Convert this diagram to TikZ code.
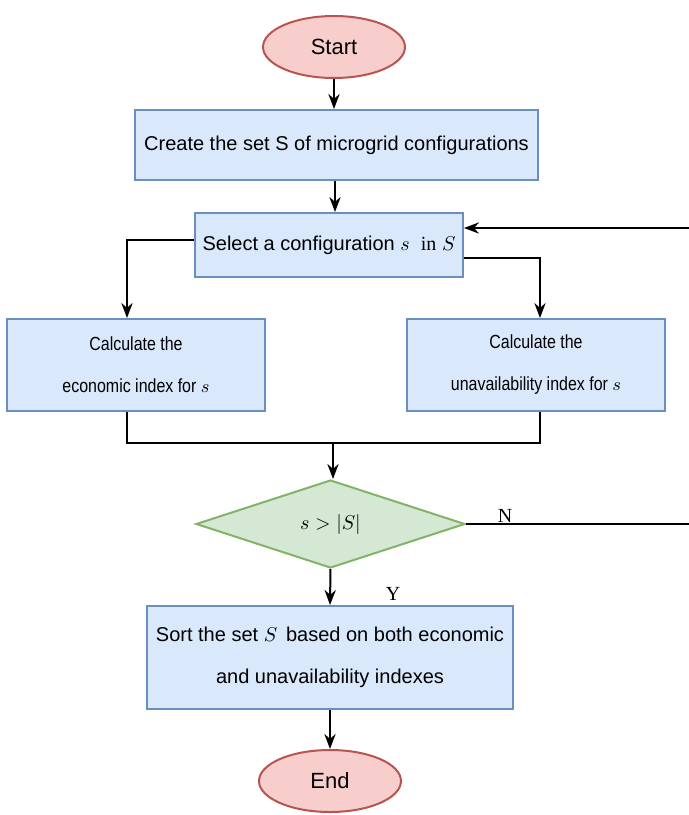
\documentclass[tikz,border=0pt]{standalone}
\usepackage{fontspec}
\setmainfont{Liberation Sans}
\newfontfamily\serif{Liberation Serif}
\newfontfamily\narrow[FakeStretch=0.84]{Liberation Sans}
\usetikzlibrary{arrows.meta,shapes.geometric}

\definecolor{boxfill}{HTML}{DAE8FC}
\definecolor{boxline}{HTML}{6C8EBF}
\definecolor{decfill}{HTML}{D5E8D4}
\definecolor{decline}{HTML}{82B366}
\definecolor{termfill}{HTML}{F8CECC}
\definecolor{termline}{HTML}{B85450}

\begin{document}
\begin{tikzpicture}[x=0.5pt, y=-0.5pt, >=Stealth, line width=1pt,
    font=\fontsize{10}{21}\selectfont,
    procbox/.style={draw=boxline, fill=boxfill, rectangle, align=center, inner sep=0pt},
    decbox/.style={draw=decline, fill=decfill, diamond, aspect=3, inner sep=0pt,
                   minimum width=134.5pt, minimum height=44pt},
    termbox/.style={draw=termline, fill=termfill, ellipse, inner sep=0pt,
                    minimum width=71pt, minimum height=31pt, font=\fontsize{11}{13}\selectfont},
    flow/.style={->, black}]
  % canvas = 689 x 815 px of the reference, 1px = 0.5pt
  \useasboundingbox (0,0) rectangle (689,815);

  % --- terminals ---
  \node[termbox] (start) at (334, 47)  {Start};
  \node[termbox] (stop)  at (330, 781) {End};

  % --- process boxes ---
  \node[procbox, minimum width=201.5pt, minimum height=35pt] (create) at (336.5, 145)
    {Create the set S of microgrid configurations};
  \node[procbox, minimum width=134pt, minimum height=32pt] (select) at (329, 245)
    {Select a configuration $s$\ \ {\serif in} $S$};
  \node[procbox, minimum width=129pt, minimum height=46pt, font=\narrow\fontsize{9.5}{21}\selectfont]
    (econ) at (136, 365) {Calculate the\\economic index for $s$};
  \node[procbox, minimum width=129pt, minimum height=46pt, font=\narrow\fontsize{9.5}{21}\selectfont]
    (unav) at (536, 365) {Calculate the\\unavailability index for $s$};
  \node[procbox, minimum width=183pt, minimum height=51.5pt] (sort) at (330, 657.5)
    {Sort the set $S$\, based on both economic\\and unavailability indexes};

  % --- decision ---
  \node[decbox] (check) at (330.5, 524) {$s > |S|$};

  % --- helper points ---
  \coordinate (join)   at (333, 443);
  \coordinate (noend)  at (689, 524);
  \coordinate (loopin) at (689, 228);

  % --- connectors ---
  \draw[flow] (start) -- (start |- create.north);
  \draw[flow] (create.south -| 335,0) -- (select.north -| 335,0);
  \draw[flow] ([yshift=2.5pt]select.west) -| ([xshift=-4.5pt]econ.north);
  \draw[flow] ([yshift=-6.5pt]select.east) -| ([xshift=2pt]unav.north);
  \draw ([xshift=-4.5pt]econ.south) |- (join) -| ([xshift=2pt]unav.south);
  \draw[flow] (join) -- (join |- check.north);
  \draw[flow] (check.south) -- (sort.north);
  \draw[flow] (sort.south) -- (stop.north);
  \draw (check.east) -- (noend);
  \draw[flow] (loopin) -- (loopin -| select.east);

  % --- branch labels ---
  \node[font=\serif\fontsize{10}{12}\selectfont] (nlabel) at (505, 516) {N};
  \node[font=\serif\fontsize{10}{12}\selectfont] (ylabel) at (393, 594) {Y};

\end{tikzpicture}
\end{document}
